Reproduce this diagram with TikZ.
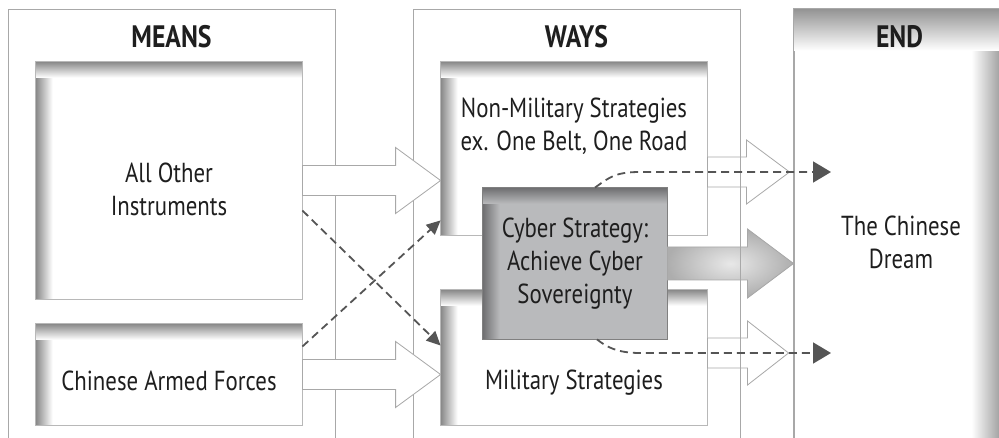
\documentclass[tikz,border=0pt]{standalone}
\usepackage{fontspec}
\newfontfamily\condfont{PT Sans}[FakeStretch=0.83]
\usetikzlibrary{calc,arrows.meta}

\definecolor{framecol}{HTML}{A8A8A8}
\definecolor{boxline}{HTML}{B8B8B8}
\definecolor{cyberfill}{HTML}{B9BABC}
\definecolor{cyberdark}{HTML}{6E6E70}
\definecolor{dashcol}{HTML}{555555}
\definecolor{inkcol}{HTML}{1E1E1E}
\definecolor{banddark}{HTML}{878787}
\definecolor{enddark}{HTML}{9C9C9C}

\tikzset{
  inset/.style={draw=boxline, fill=white, line width=0.8pt, inner sep=0pt},
  column/.style={draw=framecol, line width=0.9pt, minimum width=327pt, minimum height=441pt, inner sep=0pt},
  title/.style={font=\condfont\bfseries\fontsize{31}{31}\selectfont, text=inkcol},
  txt/.style={font=\condfont\fontsize{27.5}{33}\selectfont, text=inkcol, align=center},
  hollow/.style={draw=framecol, fill=white, line width=0.8pt},
  bigarrow/.style={draw=framecol, line width=0.8pt, shade, inner color=gray!18, outer color=gray!64},
  dasharr/.style={draw=dashcol, line width=1.8pt, dash pattern=on 8pt off 5pt, -{Triangle[length=18pt,width=21pt]}},
  smalldash/.style={dasharr, -{Triangle[length=14pt,width=13pt]}},
}

% shaded top and left edges of a box: node, dark, light, border
\newcommand{\insetbands}[4]{%
  \shade[left color=#2, right color=#3] (#1.north west) rectangle ([xshift=17pt]#1.south west);
  \shade[top color=#2, bottom color=#3] (#1.north west) rectangle ([yshift=-16pt]#1.north east);
  \draw[#4, line width=0.8pt] (#1.north west) rectangle (#1.south east);}

% block arrow: start, tip, shaft half, head half, head length
\newcommand{\blockarrow}[6][]{%
  \draw[#1] let \p1=(#2), \p2=(#3) in
    (\x1,\y1+#4) -- (\x2-#6,\y1+#4) -- (\x2-#6,\y2+#5) -- (\x2,\y2)
    -- (\x2-#6,\y2-#5) -- (\x2-#6,\y1-#4) -- (\x1,\y1-#4) -- cycle;}

\begin{document}
\begin{tikzpicture}[x=1pt, y=-1pt]
  \useasboundingbox (0,0) rectangle (999,438);
  \clip (0,0) rectangle (999,438);
  \fill[white] (0,0) rectangle (999,438);

  % Columns
  \node[column] (meanscol) at (171.5,229.5) {};
  \node[column] (wayscol) at (576.5,229.5) {};
  \node[column, fill=white, minimum width=207pt] (endcol) at (897.5,229.5) {};
  \shade[left color=white, right color=enddark] ([xshift=-30pt]endcol.north east) rectangle (endcol.south east);
  \shade[top color=gray!85, bottom color=white] (endcol.north west) rectangle ([yshift=-42pt]endcol.north east);
  \draw[framecol, line width=0.9pt] (endcol.south west) -- (endcol.north west) -- (endcol.north east);

  % Boxes
  \node[inset, minimum width=266pt, minimum height=237pt] (other) at (169,180.5) {};
  \node[inset, minimum width=266pt, minimum height=101pt] (armed) at (169,374.5) {};
  \node[inset, minimum width=266pt, minimum height=173pt] (nonmil) at (574,148.5) {};
  \node[inset, minimum width=266pt, minimum height=135pt] (mil) at (574,357.5) {};
  \insetbands{other}{banddark}{white}{boxline}
  \insetbands{armed}{banddark}{white}{boxline}
  \insetbands{nonmil}{banddark}{white}{boxline}
  \insetbands{mil}{banddark}{white}{boxline}
  \node[inset, fill=cyberfill, minimum width=184pt, minimum height=151pt] (cyber) at (575,263.5) {};
  \insetbands{cyber}{cyberdark}{cyberfill}{gray}

  % Block arrows
  \coordinate (hiY) at (0,172);
  \coordinate (loY) at (0,353);
  \coordinate (hitip) at ($(endcol.west |- hiY)+(-4,0)$);
  \coordinate (lotip) at ($(endcol.west |- loY)+(-5,0)$);
  \blockarrow[hollow]{nonmil.east |- hiY}{hitip}{15pt}{32pt}{43pt}
  \blockarrow[hollow]{mil.east |- loY}{lotip}{15pt}{32pt}{41pt}
  \blockarrow[bigarrow]{cyber.east}{endcol.west |- cyber.east}{16.5pt}{34.5pt}{46pt}
  \draw[framecol, line width=0.9pt] (wayscol.north east) -- (wayscol.south east);
  \blockarrow[hollow]{other.east}{nonmil.west |- other.east}{15pt}{33pt}{45pt}
  \blockarrow[hollow]{armed.east}{mil.west |- armed.east}{15pt}{33pt}{45pt}

  % Dashed links
  \coordinate (hibend) at (640,172);
  \coordinate (hiend) at (831,172);
  \coordinate (lobend) at (640,353);
  \coordinate (loend) at (831,353);
  \draw[smalldash] ([yshift=-30pt]other.east) -- ([yshift=12pt]mil.west);
  \draw[smalldash] ([yshift=28pt]armed.east) -- ([yshift=15pt]nonmil.south west);
  \draw[dasharr] ([xshift=20pt]cyber.north) .. controls +(14,-10) and +(-25,0) .. (hibend) -- (hiend);
  \draw[dasharr] ([xshift=22pt]cyber.south) .. controls +(10,8) and +(-22,0) .. (lobend) -- (loend);

  % Labels
  \node[title] (meanstitle) at ([yshift=-28pt]meanscol.north) {MEANS};
  \node[title] (waystitle) at ([yshift=-28pt]wayscol.north) {WAYS};
  \node[title] (endtitle) at ([xshift=2pt,yshift=-28pt]endcol.north) {END};
  \node[txt] (othertxt) at ([yshift=-8.5pt]other.center) {All Other\\Instruments};
  \node[txt] (armedtxt) at ([yshift=-6.5pt]armed.center) {Chinese Armed Forces};
  \node[txt] (nonmiltxt) at ([yshift=22pt]nonmil.center) {Non-Military Strategies\\ex. One Belt, One Road};
  \node[txt] (miltxt) at ([yshift=-25pt]mil.center) {Military Strategies};
  \node[txt] (cybertxt) at (cyber.center) {Cyber Strategy:\\Achieve Cyber\\Sovereignty};
  \node[txt] (endtxt) at (901,242) {The Chinese\\Dream};
\end{tikzpicture}
\end{document}
